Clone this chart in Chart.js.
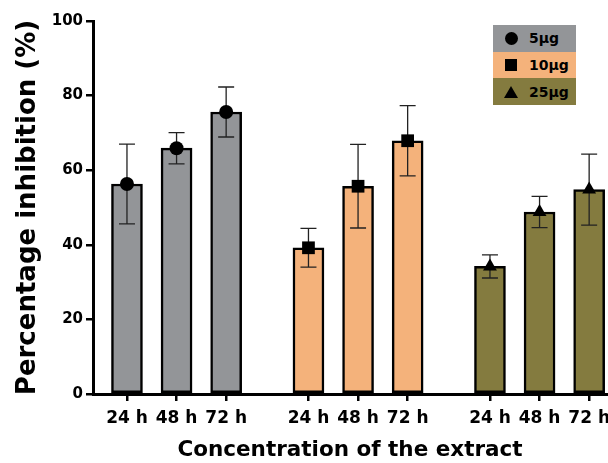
<!DOCTYPE html>
<html>
<head>
<meta charset="utf-8">
<script src="https://cdn.jsdelivr.net/npm/chart.js@4"></script>
<style>
  body { margin: 0; background: #fff; }
  #wrap { position: relative; width: 608px; height: 463px; }
  #legend { position: absolute; left: 493px; top: 25px; width: 83px; font: bold 14px "DejaVu Sans"; color: #000; }
  #legend .row { height: 26.7px; display: flex; align-items: center; }
  #legend .mk { width: 36px; display: flex; justify-content: center; }
  .circle { width: 13px; height: 13px; border-radius: 50%; background: #000; }
  .square { width: 12px; height: 12px; background: #000; }
  .triangle { width: 0; height: 0; border-left: 7px solid transparent; border-right: 7px solid transparent; border-bottom: 12px solid #000; }
</style>
</head>
<body>
<div id="wrap">
  <canvas id="chart" width="608" height="463"></canvas>
  <div id="legend"></div>
</div>
<script>
const times = ["24 h", "48 h", "72 h"];
const concentrations = ["5µg", "10µg", "25µg"];
const inhibition5 = [56.3, 65.9, 75.6];
const inhibition10 = [39.2, 55.7, 67.9];
const inhibition25 = [34.2, 48.8, 54.8];
const sd5 = [10.7, 4.2, 6.7];
const sd10 = [5.2, 11.2, 9.4];
const sd25 = [3.1, 4.2, 9.5];
const yTicks = [0, 20, 40, 60, 80, 100];

const colors = ["#939598", "#f4b27b", "#847b3f"];
const markers = ["circle", "rect", "triangle"];
const markerSize = [7, 9, 8];
const means = [inhibition5, inhibition10, inhibition25];
const errors = [sd5, sd10, sd25];

// bars sit one unit apart inside a group, groups are GROUP_STEP apart
const GROUP_STEP = 3.66;
const xPos = (g, i) => g * GROUP_STEP + i;
const positions = [];
concentrations.forEach((c, g) => times.forEach((t, i) => positions.push(xPos(g, i))));

const barSets = concentrations.map((c, g) => ({
    type: "bar",
    label: c,
    order: 2,
    data: means[g].map((v, i) => ({ x: xPos(g, i), y: v })),
    backgroundColor: colors[g],
    borderColor: "#000",
    borderWidth: 2.5,
    borderSkipped: false,
    barThickness: 31,
    grouped: false,
    errors: errors[g]
}));

const markerSets = concentrations.map((c, g) => ({
    type: "scatter",
    label: c,
    order: 0,
    data: means[g].map((v, i) => ({ x: xPos(g, i), y: v })),
    pointStyle: markers[g],
    pointRadius: markerSize[g],
    pointBackgroundColor: "#000",
    pointBorderColor: "#000",
    pointBorderWidth: 0
}));

const errorBars = {
    id: "errorBars",
    afterDatasetDraw(chart, args) {
        const ds = chart.data.datasets[args.index];
        if (!ds.errors) return;
        const ctx = chart.ctx;
        const y = chart.scales.y;
        ctx.save();
        ctx.strokeStyle = "#222";
        ctx.lineWidth = 1.3;
        args.meta.data.forEach((bar, i) => {
            const v = ds.data[i].y, e = ds.errors[i];
            const top = y.getPixelForValue(v + e);
            const bot = y.getPixelForValue(v - e);
            ctx.beginPath();
            ctx.moveTo(bar.x, top); ctx.lineTo(bar.x, bot);
            ctx.moveTo(bar.x - 8, top); ctx.lineTo(bar.x + 8, top);
            ctx.moveTo(bar.x - 8, bot); ctx.lineTo(bar.x + 8, bot);
            ctx.stroke();
        });
        ctx.restore();
    }
};

new Chart(document.getElementById("chart"), {
    data: { datasets: markerSets.concat(barSets) },
    options: {
        responsive: false,
        animation: false,
        layout: { autoPadding: false, padding: { top: 21, right: 1, left: 0, bottom: 0 } },
        plugins: { legend: { display: false }, tooltip: { enabled: false } },
        scales: {
            x: {
                type: "linear",
                offset: false,
                min: -0.685,
                max: 9.68,
                afterFit: s => { s.height = 69; s.paddingLeft = 0; s.paddingRight = 0; },
                afterBuildTicks: s => { s.ticks = positions.map(v => ({ value: v })); },
                ticks: {
                    autoSkip: false,
                    maxRotation: 0,
                    padding: 7,
                    color: "#000",
                    font: { family: "DejaVu Sans", weight: "bold", size: 17 },
                    callback: (v, i) => times[i % times.length]
                },
                grid: { offset: false, drawOnChartArea: false, color: "#000", lineWidth: 2.5, tickLength: 7 },
                border: { color: "#000", width: 3 },
                title: {
                    display: true,
                    text: "Concentration of the extract",
                    color: "#000",
                    font: { family: "DejaVu Sans", weight: "bold", size: 21.5 },
                    padding: { top: 0, bottom: 0 }
                }
            },
            y: {
                min: 0,
                max: 100,
                afterFit: s => { s.width = 93; s.paddingTop = 0; s.paddingBottom = 0; },
                afterBuildTicks: s => { s.ticks = yTicks.map(v => ({ value: v })); },
                ticks: {
                    padding: 3,
                    color: "#000",
                    font: { family: "DejaVu Sans", weight: "bold", size: 15 }
                },
                grid: { drawOnChartArea: false, color: "#000", lineWidth: 2.5, tickLength: 7 },
                border: { color: "#000", width: 3 },
                title: {
                    display: true,
                    text: "Percentage inhibition (%)",
                    color: "#000",
                    font: { family: "DejaVu Sans", weight: "bold", size: 26 },
                    padding: { top: 13, bottom: 0 }
                }
            }
        }
    },
    plugins: [errorBars]
});

const shapeClass = ["circle", "square", "triangle"];
document.getElementById("legend").innerHTML = concentrations.map((c, g) =>
    `<div class="row" style="background:${colors[g]}"><span class="mk"><span class="${shapeClass[g]}"></span></span><span>${c}</span></div>`
).join("");
</script>
</body>
</html>
